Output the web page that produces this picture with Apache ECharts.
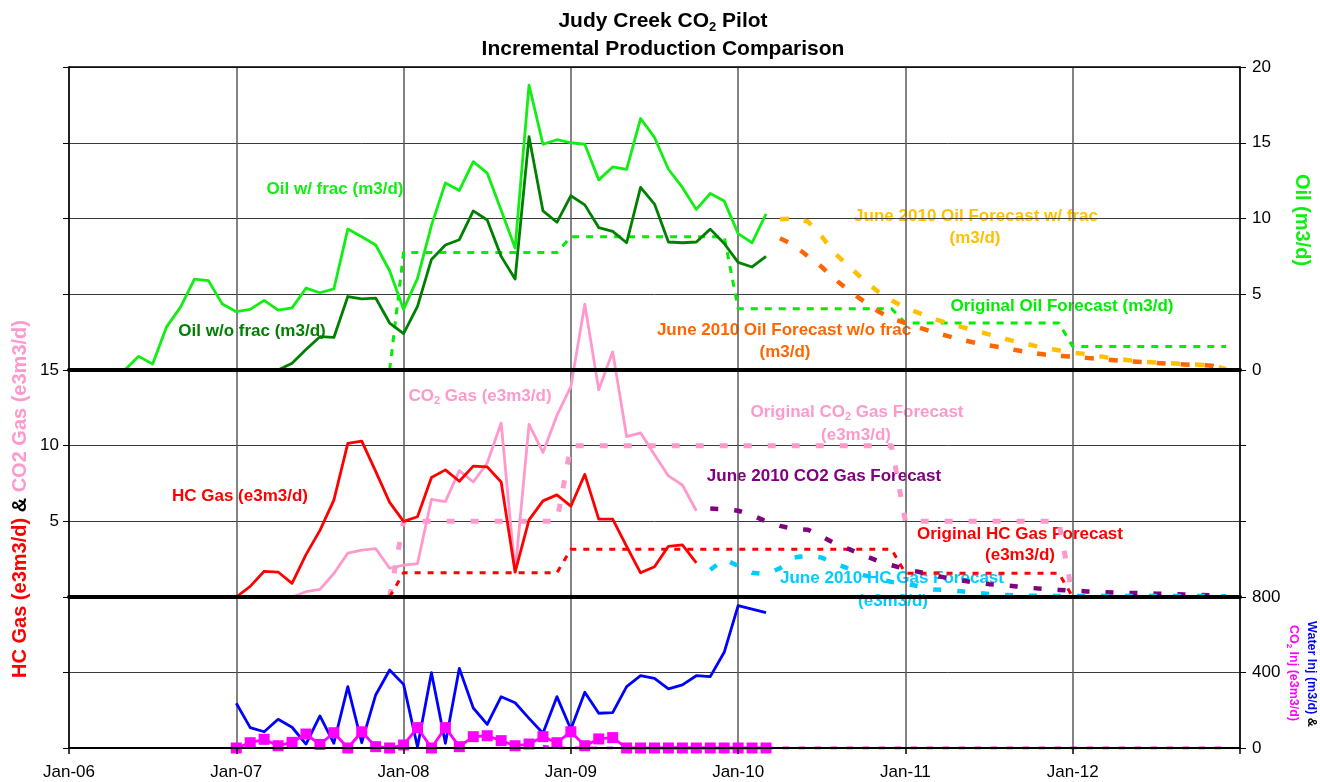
<!DOCTYPE html>
<html>
<head>
<meta charset="utf-8">
<script src="https://cdn.jsdelivr.net/npm/echarts@6/dist/echarts.min.js"></script>
<style>
  html, body { margin: 0; padding: 0; background: #fff; }
  #chart { width: 1320px; height: 782px; }
</style>
</head>
<body>
<div id="chart"></div>
<script>
// x values are months counted from Jan-06 (0 = Jan-06, 84 = Jan-13)
const xTickLabels = ['Jan-06', 'Jan-07', 'Jan-08', 'Jan-09', 'Jan-10', 'Jan-11', 'Jan-12'];

// ---- Oil panel (m3/d) ----
const oilFracStart = 4;
const oilFrac = [0, 0.9, 0.4, 2.85, 4.15, 6.0, 5.9, 4.35, 3.85, 4.0, 4.6, 3.95, 4.1, 5.4, 5.1, 5.35,
  9.3, 8.8, 8.25, 6.55, 4.0, 6.05, 9.55, 12.35, 11.85, 13.75, 13.0, 10.55, 8.05, 18.8, 14.9, 15.2,
  15.0, 14.9, 12.55, 13.4, 13.25, 16.6, 15.35, 13.25, 12.05, 10.6, 11.65, 11.15, 9.0, 8.4, 10.3];

const oilNoFracStart = 15;
const oilNoFrac = [0, 0.45, 1.35, 2.2, 2.15, 4.85, 4.7, 4.75, 3.1, 2.4, 4.2, 7.3, 8.25, 8.6, 10.5,
  9.9, 7.5, 6.0, 15.4, 10.5, 9.75, 11.5, 10.9, 9.4, 9.15, 8.4, 12.05, 10.95, 8.45, 8.4, 8.45, 9.3,
  8.35, 7.1, 6.8, 7.5];

const oilOrigStart = 23;
const oilOrig = [0,
  7.75, 7.75, 7.75, 7.75, 7.75, 7.75, 7.75, 7.75, 7.75, 7.75, 7.75, 7.75,
  8.8, 8.8, 8.8, 8.8, 8.8, 8.8, 8.8, 8.8, 8.8, 8.8, 8.8, 8.8,
  4.05, 4.05, 4.05, 4.05, 4.05, 4.05, 4.05, 4.05, 4.05, 4.05, 4.05, 4.05,
  3.1, 3.1, 3.1, 3.1, 3.1, 3.1, 3.1, 3.1, 3.1, 3.1, 3.1, 3.1,
  1.55, 1.55, 1.55, 1.55, 1.55, 1.55, 1.55, 1.55, 1.55, 1.55, 1.55, 1.55];

const oilJuneFracStart = 51;
const oilJuneFrac = [9.95, 10.0, 9.8, 8.8, 7.65, 6.8, 5.95, 5.2, 4.6, 4.1, 3.75, 3.4, 3.1, 2.85,
  2.6, 2.35, 2.1, 1.85, 1.65, 1.45, 1.3, 1.15, 1.05, 0.9, 0.75, 0.65, 0.55, 0.5, 0.45, 0.4, 0.35,
  0.3, 0.05];

const oilJuneNoFracStart = 51;
const oilJuneNoFrac = [8.7, 8.25, 7.5, 6.8, 5.95, 5.2, 4.55, 3.9, 3.4, 3.1, 2.8, 2.5, 2.25, 2.0,
  1.8, 1.62, 1.47, 1.3, 1.15, 1.02, 0.93, 0.88, 0.8, 0.73, 0.65, 0.58, 0.52, 0.47, 0.41, 0.37,
  0.33, 0.28, 0.05];

// ---- Gas panel (e3m3/d) ----
const hcGasStart = 12;
const hcGas = [0, 0.7, 1.7, 1.65, 0.9, 2.8, 4.4, 6.4, 10.15, 10.3, 8.3, 6.25, 5.0, 5.3, 7.9, 8.4,
  7.65, 8.65, 8.6, 7.6, 1.65, 5.1, 6.35, 6.75, 6.0, 8.1, 5.15, 5.15, 3.35, 1.6, 2.0, 3.35, 3.45, 2.25];

const co2GasStart = 16;
const co2Gas = [0, 0.35, 0.5, 1.55, 2.9, 3.1, 3.2, 1.9, 2.1, 2.2, 6.45, 6.3, 8.35, 7.6, 8.85, 11.5,
  1.65, 11.4, 9.55, 12.0, 13.9, 19.35, 13.7, 16.2, 10.6, 10.85, 9.4, 8.0, 7.4, 5.7];

const co2OrigStart = 23;
const co2Orig = [0,
  5, 5, 5, 5, 5, 5, 5, 5, 5, 5, 5, 5,
  10, 10, 10, 10, 10, 10, 10, 10, 10, 10, 10, 10,
  10, 10, 10, 10, 10, 10, 10, 10, 10, 10, 10, 10,
  5, 5, 5, 5, 5, 5, 5, 5, 5, 5, 5, 5,
  0];

const hcOrigStart = 23;
const hcOrig = [0,
  1.6, 1.6, 1.6, 1.6, 1.6, 1.6, 1.6, 1.6, 1.6, 1.6, 1.6, 1.6,
  3.15, 3.15, 3.15, 3.15, 3.15, 3.15, 3.15, 3.15, 3.15, 3.15, 3.15, 3.15,
  3.15, 3.15, 3.15, 3.15, 3.15, 3.15, 3.15, 3.15, 3.15, 3.15, 3.15, 3.15,
  1.57, 1.57, 1.57, 1.57, 1.57, 1.57, 1.57, 1.57, 1.57, 1.57, 1.57, 1.57,
  0];

const co2JuneStart = 46;
const co2June = [5.85, 5.8, 5.7, 5.4, 5.0, 4.7, 4.5, 4.45, 4.0, 3.5, 3.15, 2.75, 2.4, 2.1, 1.85,
  1.65, 1.45, 1.25, 1.1, 0.95, 0.85, 0.78, 0.7, 0.6, 0.53, 0.47, 0.42, 0.37, 0.33, 0.29, 0.27,
  0.25, 0.22, 0.2, 0.17, 0.15, 0.1, 0.05];

const hcJuneStart = 46;
const hcJune = [1.8, 2.5, 2.05, 1.6, 1.5, 1.9, 2.6, 2.75, 2.6, 2.2, 1.85, 1.45, 1.2, 1.0, 0.88,
  0.7, 0.5, 0.45, 0.38, 0.28, 0.2, 0.14, 0.1, 0.08, 0.07, 0.07, 0.07, 0.07, 0.07, 0.07, 0.07,
  0.07, 0.07, 0.07, 0.06, 0.06, 0.06, 0.05];

// ---- Injection panel ----
const waterInjStart = 12;
const waterInj = [237, 108, 86, 152, 110, 21, 170, 25, 325, 28, 281, 413, 337, 5, 399, 25, 422,
  212, 125, 272, 240, 157, 78, 272, 99, 295, 184, 187, 325, 383, 369, 313, 334, 383, 378, 507,
  754, 736, 717];

const co2InjStart = 12;
const co2Inj = [0, 28, 46, 12, 30, 74, 19, 81, 0, 86, 7, 0, 16, 108, 0, 108, 7, 60, 65, 39, 12,
  21, 60, 28, 86, 12, 48, 55, 0, 0, 0, 0, 0, 0, 0, 0, 0, 0, 0];

const co2InjFcstStart = 34;
const co2InjFcst = [10, 0, 0, 0, 0, 0, 0, 0, 0, 0, 0, 0, 0, 0, 0, 0, 0, 0, 0, 0, 0, 0, 0, 0, 0,
  0, 0, 0, 0, 0, 0, 0, 0, 0, 0, 0, 0, 0, 0, 0, 0, 0, 0, 0, 0, 0, 0, 0, 0, 0];

// ---- styling ----
const FONT = '"Liberation Sans", Arial, Helvetica, sans-serif';
const C = {
  oilFrac: '#11ee11', oilNoFrac: '#008000', oilOrig: '#00ee00', gold: '#ffc000', orange: '#ff6600',
  hc: '#ff0000', co2: '#ff99cc', purple: '#800080', cyan: '#00ccff', water: '#0000ff', co2Inj: '#ff00ff'
};

function pts(start, values) { return values.map((v, i) => [start + i, v]); }

function lineSeries(name, grid, data, color, width, dash, extra) {
  return Object.assign({
    type: 'line', name, xAxisIndex: grid * 2, yAxisIndex: grid * 2, data,
    symbol: 'none', showSymbol: false, silent: true,
    lineStyle: { color, width, type: dash || 'solid', cap: 'butt', join: 'round' },
    itemStyle: { color }
  }, extra || {});
}

const grids = [
  { left: 69, right: 80, top: 67, height: 303 },
  { left: 69, right: 80, top: 370, height: 227 },
  { left: 69, right: 80, top: 597, height: 151 }
];

const xAxes = [];
grids.forEach((g, i) => {
  // bottom axis carries the panel separator line (drawn above the data)
  xAxes.push({
    gridIndex: i, type: 'value', position: 'bottom', min: 0, max: 84, interval: 12, z: 5,
    axisLine: { show: true, onZero: false, lineStyle: { color: '#000', width: i < 2 ? 4 : 2 } },
    axisTick: { show: i === 2, length: 6, lineStyle: { color: '#000', width: 1.5 } },
    axisLabel: {
      show: i === 2, fontSize: 17, color: '#000', margin: 16, fontFamily: FONT,
      formatter: v => xTickLabels[v / 12] || ''
    },
    splitLine: { show: false }
  });
  // top axis carries the vertical year lines (drawn under the data)
  xAxes.push({
    gridIndex: i, type: 'value', position: 'top', min: 0, max: 84, interval: 12, z: 0,
    axisLine: { show: i === 0, onZero: false, lineStyle: { color: '#000', width: 1.5 } },
    axisTick: { show: false }, axisLabel: { show: false },
    splitLine: { show: true, lineStyle: { color: '#5a5a5a', width: 1.5 } }
  });
});

function yAxis(grid, pos, max, interval, labels, split, fmt) {
  return {
    gridIndex: grid, type: 'value', position: pos, min: 0, max, interval,
    axisLine: { show: true, onZero: false, lineStyle: { color: '#000', width: 1.5 } },
    axisTick: { show: true, length: 6, lineStyle: { color: '#000', width: 1 } },
    axisLabel: { show: labels, fontSize: 17, color: '#000', margin: pos === 'right' ? 12 : 10,
      fontFamily: FONT, formatter: fmt || (v => String(v)) },
    splitLine: { show: split, lineStyle: { color: '#3a3a3a', width: 1 } }
  };
}

const yAxes = [
  yAxis(0, 'right', 20, 5, true, true),
  yAxis(0, 'left', 20, 5, false, false),
  yAxis(1, 'left', 15, 5, true, true, v => (v === 0 ? '' : String(v))),
  yAxis(1, 'right', 15, 5, false, false),
  yAxis(2, 'right', 800, 400, true, true),
  yAxis(2, 'left', 800, 400, false, false)
];

const series = [
  lineSeries('Original Oil Forecast', 0, pts(oilOrigStart, oilOrig), C.oilOrig, 3, [7, 7]),
  lineSeries('June 2010 Oil Forecast w/ frac', 0, pts(oilJuneFracStart, oilJuneFrac), C.gold, 4.5, [9, 15]),
  lineSeries('June 2010 Oil Forecast w/o frac', 0, pts(oilJuneNoFracStart, oilJuneNoFrac), C.orange, 4.5, [9, 15]),
  lineSeries('Oil w/ frac', 0, pts(oilFracStart, oilFrac), C.oilFrac, 2.8),
  lineSeries('Oil w/o frac', 0, pts(oilNoFracStart, oilNoFrac), C.oilNoFrac, 2.8),

  lineSeries('Original CO2 Gas Forecast', 1, pts(co2OrigStart, co2Orig), C.co2, 5, [8, 16]),
  lineSeries('Original HC Gas Forecast', 1, pts(hcOrigStart, hcOrig), C.hc, 3, [6, 7]),
  lineSeries('June 2010 CO2 Gas Forecast', 1, pts(co2JuneStart, co2June), C.purple, 4.5, [8, 16]),
  lineSeries('June 2010 HC Gas Forecast', 1, pts(hcJuneStart, hcJune), C.cyan, 4.5, [8, 16]),
  lineSeries('CO2 Gas', 1, pts(co2GasStart, co2Gas), C.co2, 2.8, null, { clip: false }),
  lineSeries('HC Gas', 1, pts(hcGasStart, hcGas), C.hc, 2.8),

  lineSeries('CO2 Inj Forecast', 2, pts(co2InjFcstStart, co2InjFcst), C.co2Inj, 3, [6, 10]),
  lineSeries('Water Inj', 2, pts(waterInjStart, waterInj), C.water, 2.8),
  lineSeries('CO2 Inj', 2, pts(co2InjStart, co2Inj), C.co2Inj, 2.8, null,
    { symbol: 'rect', symbolSize: 11, showSymbol: true, clip: false })
];

// in-plot series labels
const sub = { fontSize: 11, fontWeight: 'bold', fontFamily: FONT, verticalAlign: 'bottom', lineHeight: 13 };
function labelText(text, color, x, y, size, rotation) {
  size = size || 17;
  const base = { fontSize: size, fontWeight: 'bold', fontFamily: FONT, fill: color, lineHeight: size + 3 };
  return {
    type: 'text', x, y, rotation: rotation || 0, silent: true,
    style: {
      text, align: 'center', verticalAlign: 'middle', fill: color,
      font: 'bold ' + size + 'px ' + FONT,
      rich: {
        a: base,
        s: Object.assign({}, sub, { fill: color, fontSize: Math.round(size * 0.65), lineHeight: Math.round(size * 0.75) })
      }
    }
  };
}

const labels = [
  labelText('{a|Oil w/ frac (m3/d)}', C.oilFrac, 335, 189),
  labelText('{a|Oil w/o frac (m3/d)}', C.oilNoFrac, 252, 331),
  labelText('{a|June 2010 Oil Forecast w/ frac}', C.gold, 976, 216),
  labelText('{a|(m3/d)}', C.gold, 975, 238),
  labelText('{a|Original Oil Forecast (m3/d)}', C.oilOrig, 1062, 306),
  labelText('{a|June 2010 Oil Forecast w/o frac}', C.orange, 784, 330),
  labelText('{a|(m3/d)}', C.orange, 785, 352),
  labelText('{a|CO}{s|2}{a| Gas (e3m3/d)}', C.co2, 480, 396),
  labelText('{a|Original CO}{s|2}{a| Gas Forecast}', C.co2, 857, 412),
  labelText('{a|(e3m3/d)}', C.co2, 856, 435),
  labelText('{a|June 2010 CO2 Gas Forecast}', C.purple, 824, 476),
  labelText('{a|HC Gas (e3m3/d)}', C.hc, 240, 496),
  labelText('{a|Original HC Gas Forecast}', C.hc, 1020, 534),
  labelText('{a|(e3m3/d)}', C.hc, 1020, 555),
  labelText('{a|June 2010 HC Gas Forecast}', C.cyan, 892, 578),
  labelText('{a|(e3m3/d)}', C.cyan, 893, 601)
];

// chart title (two centred lines)
const titleRich = {
  a: { fontSize: 21, fontWeight: 'bold', fontFamily: FONT, fill: '#000', lineHeight: 26 },
  s: { fontSize: 13, fontWeight: 'bold', fontFamily: FONT, fill: '#000', lineHeight: 15, verticalAlign: 'bottom' }
};
const titles = [
  { type: 'text', x: 663, y: 21, silent: true,
    style: { text: '{a|Judy Creek CO}{s|2}{a| Pilot}', align: 'center', verticalAlign: 'middle', rich: titleRich } },
  { type: 'text', x: 663, y: 49, silent: true,
    style: { text: '{a|Incremental Production Comparison}', align: 'center', verticalAlign: 'middle', rich: titleRich } }
];

// axis titles
function axisTitle(text, x, y, rotation, size, colors) {
  const rich = {};
  Object.keys(colors).forEach(k => {
    rich[k] = { fontSize: size, fontWeight: 'bold', fontFamily: FONT, fill: colors[k], lineHeight: size + 3 };
  });
  rich.s = { fontSize: Math.round(size * 0.65), fontWeight: 'bold', fontFamily: FONT, fill: colors.m || '#000',
    lineHeight: Math.round(size * 0.75), verticalAlign: 'bottom' };
  return { type: 'text', x, y, rotation, silent: true,
    style: { text, align: 'center', verticalAlign: 'middle', rich } };
}

const axisTitles = [
  axisTitle('{r|HC Gas (e3m3/d)}{k| & }{p|CO2 Gas (e3m3/d)}', 20, 499, Math.PI / 2, 20,
    { r: C.hc, k: '#000', p: C.co2 }),
  axisTitle('{g|Oil (m3/d)}', 1302, 220, -Math.PI / 2, 20, { g: C.oilFrac }),
  axisTitle('{b|Water Inj (m3/d) }{k|&}', 1311, 674, -Math.PI / 2, 12.5, { b: C.water, k: '#000' }),
  axisTitle('{m|CO}{s|2}{m| Inj (e3m3/d)}', 1293, 673, -Math.PI / 2, 12.5, { m: C.co2Inj })
];

const chart = echarts.init(document.getElementById('chart'), null, { renderer: 'canvas' });
chart.setOption({
  animation: false,
  backgroundColor: '#fff',
  grid: grids,
  xAxis: xAxes,
  yAxis: yAxes,
  series,
  graphic: { elements: titles.concat(labels, axisTitles) }
});
</script>
</body>
</html>
